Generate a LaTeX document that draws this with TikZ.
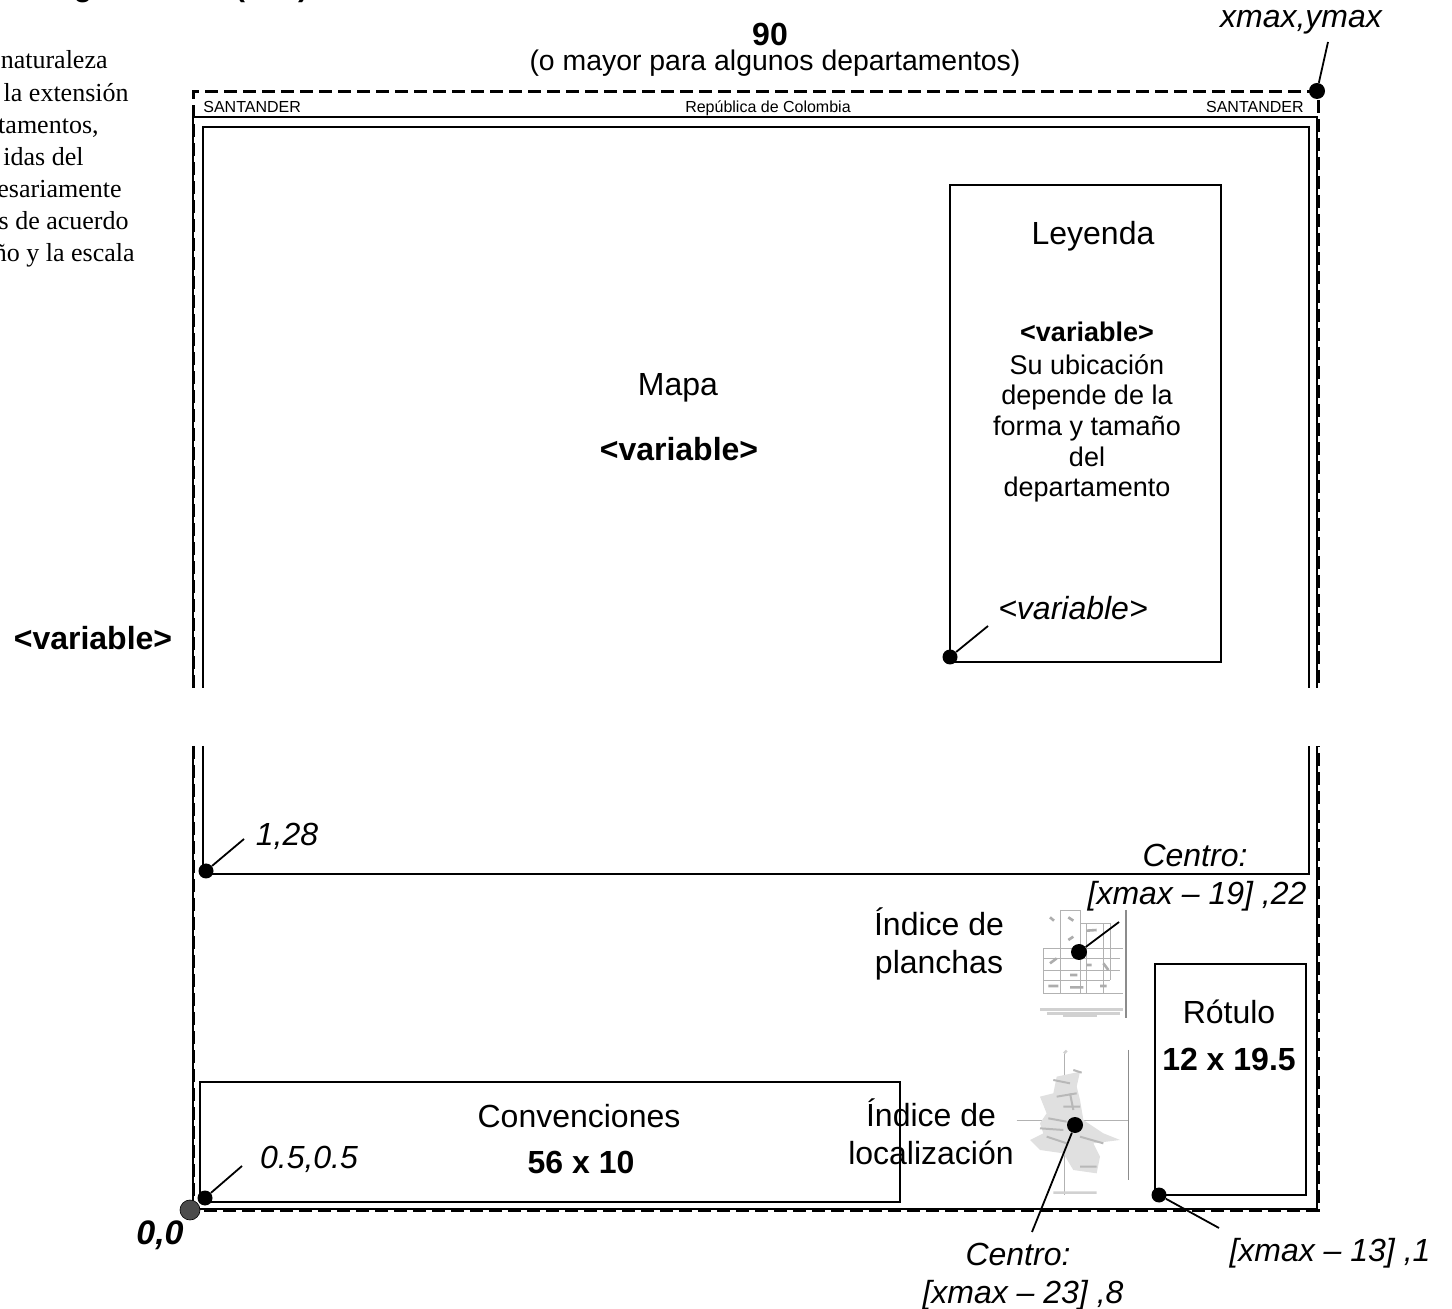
\documentclass[tikz,border=0pt]{standalone}
\usepackage{fontspec}
\setmainfont{Liberation Sans}
\newfontfamily\serifleft{Liberation Serif}
\begin{document}
\begin{tikzpicture}[x=0.5pt,y=-0.5pt,
  txt/.style={font=\fontsize{16}{18}\selectfont,anchor=base,inner sep=0pt},
  txtb/.style={txt,font=\fontsize{16}{18}\selectfont\bfseries},
  txti/.style={txt,font=\fontsize{16}{18}\selectfont\itshape},
  txtbi/.style={txt,font=\fontsize{17}{18}\selectfont\bfseries\itshape},
  ley/.style={txt,font=\fontsize{13.5}{16}\selectfont},
  tiny/.style={font=\fontsize{8}{9}\selectfont,inner sep=0pt},
  side/.style={font=\fontsize{13}{14}\selectfont\serifleft,anchor=base east,inner sep=0pt},
  dot/.style={circle,fill=black,inner sep=0pt,minimum size=8pt},
  dotg/.style={circle,fill=black!70,draw=black,line width=0.3pt,inner sep=0pt,minimum size=10pt},
  lead/.style={line width=0.9pt},
  frame/.style={line width=1.2pt},
  frameb/.style={line width=1pt},
  boxl/.style={line width=0.8pt},
  dashf/.style={line width=1.5pt,dash pattern=on 6.5pt off 3pt},
  thumb/.style={line width=0.3pt,black!30},
  thumbd/.style={line width=0.7pt,black!45}]
\useasboundingbox (0,0) rectangle (1452,1309);
\clip (0,0) rectangle (1452,1309);
\fill[white] (0,0) rectangle (1452,1309);

% clipped heading, only its lower edge is on the page
\node[txtb,font=\fontsize{15}{18}\selectfont\bfseries] (hg) at (83,-3) {g};
\node[txtb,font=\fontsize{15}{18}\selectfont\bfseries] (hp) at (240,-3) {(};
\node[txtb,font=\fontsize{15}{18}\selectfont\bfseries] (hq) at (303,-3) {)};

% clipped side note
\node[side] (s1) at (108,69) {naturaleza};
\node[side] (s2) at (129,102) {la extensión};
\node[side] (s3) at (99,134) {tamentos,};
\node[side] (s4) at (84,166) {idas del};
\node[side] (s5) at (122,198) {esariamente};
\node[side] (s6) at (129,230) {s de acuerdo};
\node[side] (s7) at (135,262) {ño y la escala};

% thumbnail: indice de planchas
\begin{scope}[shift={(840,880)},scale=1/3]
  \draw[thumb] (610,205)--(850,205) (610,235)--(840,235) (610,270)--(840,270)
    (610,300)--(810,300) (610,340)--(850,340);
  \draw[thumb] (660,90)--(660,340) (722,90)--(722,340) (740,130)--(740,340)
    (790,130)--(790,340) (610,205)--(610,340) (660,90)--(722,90) (722,130)--(810,130)--(810,300);
  \draw[line width=1.4pt,black!18] (600,388)--(850,388) (620,400)--(840,400) (670,408)--(770,408);
  \draw[thumbd] (858,90)--(858,415);
  \draw[line width=1.3pt,black!32] (630,112)--(642,122) (685,112)--(700,122) (685,180)--(700,170)
    (740,152)--(770,150) (630,250)--(650,235) (790,250)--(805,270) (690,285)--(712,285)
    (625,318)--(655,318) (690,322)--(730,322) (780,318)--(800,318) (740,255)--(755,255);
\end{scope}

% thumbnail: indice de localizacion
\begin{scope}[shift={(840,880)},scale=1/3]
  \draw[thumb] (530,720)--(868,720) (672,515)--(672,945);
  \draw[thumbd] (866,510)--(866,900);
  \fill[black!12] (720,575)--(650,590)--(640,640)--(600,650)--(620,700)--(600,730)--(610,760)
    --(570,780)--(600,810)--(670,820)--(700,870)--(770,880)--(780,830)--(760,790)--(840,780)
    --(790,760)--(730,720)--(720,660)--(710,620)--cycle;
  \draw[line width=1pt,black!28] (640,600)--(690,610) (650,650)--(710,640) (670,680)--(720,680)
    (625,715)--(680,725) (600,745)--(670,750) (620,770)--(680,790) (720,770)--(790,790)
    (720,860)--(770,860) (700,570)--(725,578) (690,640)--(700,690);
  \draw[line width=1.2pt,black!18] (640,938)--(770,938) (672,520)--(680,512);
\end{scope}

% outer frame and dashed limit, interrupted by the break
\draw[frame] (193,688)--(193,117)--(1317,117)--(1317,688);
\draw[frame] (193,746)--(193,1209)--(1317,1209)--(1317,746);
\draw[frameb] (203,688)--(203,127)--(1309,127)--(1309,688);
\draw[frameb] (203,746)--(203,874)--(1309,874)--(1309,746);
\draw[dashf] (193,688)--(193,92)--(1318,92)--(1318,688);
\draw[dashf] (193,746)--(193,1210)--(1318,1210)--(1318,746);

% boxes
\draw[boxl] (950,185) rectangle (1221,662);
\draw[boxl] (200,1082) rectangle (900,1202);
\draw[boxl] (1155,964) rectangle (1306,1195);

% labels
\node[txtb] (n90) at (770,46) {90};
\node[txt,font=\fontsize{14.2}{16}\selectfont] (mayor) at (775,71) {(o mayor para algunos departamentos)};
\node[txti] (xy) at (1301,28) {xmax,ymax};
\node[tiny,anchor=base west] (sl) at (203,113) {SANTANDER};
\node[tiny,anchor=base] (rc) at (768,113) {República de Colombia};
\node[tiny,anchor=base east] (sr) at (1304,113) {SANTANDER};
\node[txt] (leyt) at (1093,245) {Leyenda};
\node[ley,font=\fontsize{13.5}{16}\selectfont\bfseries] (l1) at (1087,342) {<variable>};
\node[ley] (l2) at (1087,375) {Su ubicación};
\node[ley] (l3) at (1087,405) {depende de la};
\node[ley] (l4) at (1087,436) {forma y tamaño};
\node[ley] (l5) at (1087,467) {del};
\node[ley] (l6) at (1087,497) {departamento};
\node[txt] (mapa) at (678,396) {Mapa};
\node[txtb] (mv) at (679,461) {<variable>};
\node[txti] (lv) at (1073,620) {<variable>};
\node[txtb] (hv) at (93,650) {<variable>};
\node[txti] (c128) at (287,846) {1,28};
\node[txti] (cp1) at (1195,867) {Centro:};
\node[txti] (cp2) at (1197,905) {[xmax – 19] ,22};
\node[txt] (ip1) at (939,936) {Índice de};
\node[txt] (ip2) at (939,974) {planchas};
\node[txt] (rot) at (1229,1023) {Rótulo};
\node[txtb] (rotd) at (1229,1071) {12 x 19.5};
\node[txt] (conv) at (579,1127) {Convenciones};
\node[txtb] (convd) at (581,1173) {56 x 10};
\node[txti] (c05) at (309,1168) {0.5,0.5};
\node[txt] (il1) at (931,1126) {Índice de};
\node[txt] (il2) at (931,1164) {localización};
\node[txtbi] (c00) at (160,1244) {0,0};
\node[txti] (cl1) at (1018,1265) {Centro:};
\node[txti] (cl2) at (1023,1303) {[xmax – 23] ,8};
\node[txti] (cr) at (1330,1261) {[xmax – 13] ,1};

% leader ends
\coordinate (exy) at (1328,42);
\coordinate (ele) at (988,626);
\coordinate (e128) at (244,839);
\coordinate (e05) at (242,1166);
\coordinate (eip) at (1119,922);
\coordinate (eil) at (1032,1232);
\coordinate (erot) at (1219,1228);

% dots
\node[dot] (dxy) at (1317,91) {};
\node[dot,minimum size=7.5pt] (dle) at (950,657) {};
\node[dot,minimum size=7.5pt] (d128) at (206,871) {};
\node[dot,minimum size=7.5pt] (d05) at (205,1198) {};
\node[dotg] (d00) at (190,1210) {};
\node[dot] (dip) at (1079,952) {};
\node[dot] (dil) at (1075,1125) {};
\node[dot,minimum size=7.5pt] (drot) at (1159,1195) {};

% leaders
\draw[lead] (dxy)--(exy);
\draw[lead] (dle)--(ele);
\draw[lead] (d128)--(e128);
\draw[lead] (d05)--(e05);
\draw[lead] (dip)--(eip);
\draw[lead] (dil)--(eil);
\draw[lead] (drot)--(erot);
\end{tikzpicture}
\end{document}
